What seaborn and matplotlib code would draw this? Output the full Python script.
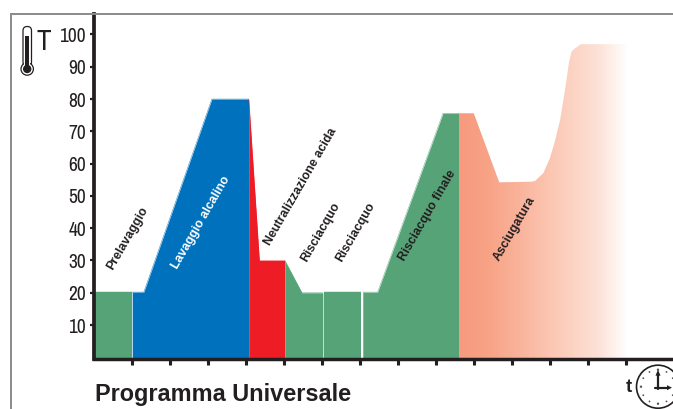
import numpy as np
import pandas as pd
import matplotlib
matplotlib.use("Agg")
import matplotlib.pyplot as plt
from matplotlib.colors import LinearSegmentedColormap
from matplotlib.patches import Circle, FancyBboxPatch, Rectangle
import seaborn as sns

# Time in tick units, temperature in degrees
prelavaggio_t = [0.0, 1.0]
prelavaggio_T = [20.2, 20.2]
alcalino_t = [1.005, 1.31, 3.10, 4.07]
alcalino_T = [20.2, 20.2, 80.0, 80.0]
acida_t = [4.07, 4.35, 5.02]
acida_T = [80.0, 30.0, 30.0]
risc1_t = [5.02, 5.47, 6.02]
risc1_T = [30.0, 20.0, 20.0]
risc2_t = [6.05, 7.03]
risc2_T = [20.2, 20.2]
finale_t = [7.07, 7.46, 9.18, 9.6]
finale_T = [20.2, 20.2, 75.6, 75.6]
asciug_t = [9.6, 9.99, 10.66, 11.49, 11.6, 11.82, 11.99, 12.12, 12.26, 12.39, 12.49, 12.56, 12.65, 12.81, 14.02]
asciug_T = [75.6, 75.6, 54.2, 54.4, 54.6, 57.1, 61.6, 66.8, 73.5, 82.8, 91.1, 94.7, 95.7, 97.0, 97.0]

y_ticks = [10, 20, 30, 40, 50, 60, 70, 80, 90, 100]
x_ticks = list(range(1, 15))

phase_names = ["Prelavaggio", "Lavaggio alcalino", "Neutralizzazione acida",
               "Risciacquo", "Risciacquo", "Risciacquo finale", "Asciugatura"]
phase_colors = ["#56a377", "#0071bc", "#ee1c25", "#56a377", "#56a377", "#56a377", None]
label_colors = ["#231f20", "white", "#231f20", "#231f20", "#231f20", "#231f20", "#231f20"]
label_px = [(128, 238), (201, 222.5), (300.5, 187), (320.5, 232), (356, 232), (427.5, 215.5), (514.5, 229)]
grad_stops = ["#f79a7e", "#f8a286", "#f9b198", "#fbc2ad", "#fcd3c3", "#fde2d8", "#ffffff"]

sns.set_theme(style="white")
plt.rcParams["font.family"] = ["Liberation Sans", "DejaVu Sans"]

fig = plt.figure(figsize=(6.73, 4.09), dpi=100)
W, H = 673, 409
ax = fig.add_axes([94 / W, 1 - 359 / H, (W - 94) / W, (359 - 14) / H])
x_limits = (0, 15.23)
y_limits = (-0.53, 106.35)
ax.set_xlim(*x_limits)
ax.set_ylim(*y_limits)

dark = "#231f20"
ts = [prelavaggio_t, alcalino_t, acida_t, risc1_t, risc2_t, finale_t]
Ts = [prelavaggio_T, alcalino_T, acida_T, risc1_T, risc2_T, finale_T]
for t, T, c in zip(ts, Ts, phase_colors):
    ax.fill_between(t, y_limits[0], T, color=c, lw=0, zorder=2)
    sns.lineplot(x=t, y=T, color=c, lw=0.3, ax=ax, legend=False, zorder=2, errorbar=None)

# Drying phase: fading fill clipped to the profile
poly = ax.fill_between(asciug_t, y_limits[0], asciug_T, color="none", lw=0)
cmap = LinearSegmentedColormap.from_list("fade", grad_stops)
im = ax.imshow(np.linspace(0, 1, 256)[None, :], cmap=cmap, aspect="auto",
               extent=[asciug_t[0], asciug_t[-1], y_limits[0], max(asciug_T)], zorder=2)
im.set_clip_path(poly.get_paths()[0], transform=ax.transData)
ax.set_xlim(*x_limits)
ax.set_ylim(*y_limits)

for s in ["top", "right"]:
    ax.spines[s].set_visible(False)
for s in ["left", "bottom"]:
    ax.spines[s].set_color(dark)
    ax.spines[s].set_zorder(6)
ax.spines["left"].set_linewidth(2.7)
ax.spines["bottom"].set_linewidth(2.5)
ax.set_xticks(x_ticks)
ax.set_xticklabels([])
ax.tick_params(axis="x", bottom=True, length=4.5, width=2.2, color=dark)
ax.set_yticks(y_ticks)
ax.set_yticklabels([str(v) for v in y_ticks], family=["Archivo Narrow", "Liberation Sans"],
                   fontsize=14, color=dark)
ax.tick_params(axis="y", left=True, length=3.2, width=1.6, color=dark, pad=2.5)

# Pixel-coordinate overlay for frame, labels and icons
ov = fig.add_axes([0, 0, 1, 1], zorder=5)
ov.set_xlim(0, W)
ov.set_ylim(H, 0)
ov.axis("off")
ov.patch.set_alpha(0)

ov.plot([10.5, 10.5, W], [H, 14, 14], color="#8a8a8a", lw=1.4, zorder=0, solid_joinstyle="miter")

for name, col, (px, py) in zip(phase_names, label_colors, label_px):
    ov.text(px, py, name, rotation=60, rotation_mode="anchor", ha="center", va="center",
            fontsize=8.9, color=col, weight="bold")

ov.text(95, 394, "Programma Universale", fontsize=16.9, weight="bold", color=dark,
        ha="left", va="center")
ov.text(629, 387, "t", fontsize=13.5, weight="bold", color=dark, ha="center", va="center")
ov.text(43.8, 41.5, "T", fontsize=21, color=dark, ha="center", va="center",
        family=["Archivo Narrow", "Liberation Sans"])

# Thermometer
ov.add_patch(FancyBboxPatch((23, 26.5), 8.5, 40, boxstyle="round,pad=0,rounding_size=4.2",
                            fc="white", ec=dark, lw=0.9))
ov.add_patch(Circle((27.2, 69), 6.2, fc="white", ec=dark, lw=0.9))
ov.add_patch(Rectangle((24, 62), 6.4, 5, fc="white", ec="none", zorder=1.5))
ov.add_patch(Rectangle((25.2, 36), 4, 30, fc=dark, ec="none", zorder=1.6))
ov.add_patch(Circle((27.2, 69), 4.2, fc=dark, ec="none", zorder=1.6))

# Clock
cx, cy, r = 658, 386.7, 21.5
ov.add_patch(Circle((cx, cy), r, fc="white", ec=dark, lw=1.2))
for a in range(0, 360, 30):
    ax_, ay_ = cx + 17 * np.cos(np.radians(a)), cy + 17 * np.sin(np.radians(a))
    ov.add_patch(Circle((ax_, ay_), 0.9 if a % 90 else 1.2, fc="#555555", ec="none"))
ov.plot([cx, cx], [cy + 2, cy - 13], color=dark, lw=1.6)
ov.plot([cx - 3, cx + 10], [cy + 1, cy + 1], color=dark, lw=1.6)
ov.fill([cx - 2.5, cx + 2.5, cx], [cy - 11, cy - 11, cy - 17], color=dark, lw=0)
ov.fill([cx + 9, cx + 9, cx + 14], [cy - 1.5, cy + 3.5, cy + 1], color=dark, lw=0)

fig.savefig("out.png", dpi=100)
